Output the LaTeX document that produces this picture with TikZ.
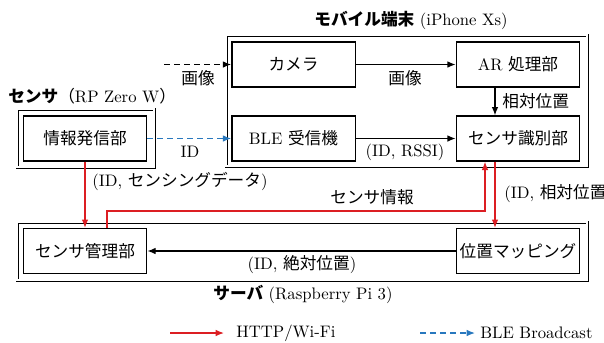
\documentclass[tikz,border=0pt]{standalone}
\usepackage{fontspec}
\usetikzlibrary{arrows.meta}
\newfontfamily\jp{Noto Sans CJK JP}
\definecolor{myred}{RGB}{220,30,35}
\definecolor{myblue}{RGB}{40,120,190}
\begin{document}
\begin{tikzpicture}[x=0.6pt,y=-0.6pt,
  box/.style={draw,line width=0.8pt,minimum width=74pt,minimum height=27pt,inner sep=0pt},
  outerbox/.style={draw,double,line width=0.45pt,double distance=0.9pt},
  arr/.style={line width=0.8pt,-{Latex[length=5pt,width=4pt]}},
  redarr/.style={draw=myred,line width=0.8pt,-{Latex[length=5pt,width=4pt]}},
  bluearr/.style={draw=myblue,line width=0.8pt,dash pattern=on 3.5pt off 2.5pt,-{Latex[length=5pt,width=4pt]}},
  blackdash/.style={line width=0.8pt,dash pattern=on 3.5pt off 2.5pt,-{Latex[length=5pt,width=4pt]}},
  lbl/.style={inner sep=0pt}]
\useasboundingbox (0,0) rectangle (604,342);
% outer containers
\draw[outerbox] (226,35) rectangle (587,166);
\draw[outerbox] (17,109) rectangle (154,167);
\draw[outerbox] (17,222) rectangle (587,280);
% titles
\node[lbl,anchor=west] (tmob) at (314,20) {{\jp\bfseries モバイル端末} (iPhone Xs)};
\node[lbl,anchor=west] (tsen) at (8,96) {{\jp\bfseries センサ}{\jp （}RP Zero W{\jp ）}};
\node[lbl,anchor=west] (tsrv) at (213,294) {{\jp\bfseries サーバ} (Raspberry Pi 3)};
% boxes
\node[box] (cam) at (293.5,64.5) {\jp カメラ};
\node[box] (ar) at (518,64.5) {AR {\jp 処理部}};
\node[box] (ble) at (293.5,138.5) {BLE {\jp 受信機}};
\node[box] (sid) at (518,138.5) {\jp センサ識別部};
\node[box] (info) at (85,138.5) {\jp 情報発信部};
\node[box] (mgmt) at (85,251) {\jp センサ管理部};
\node[box] (pmap) at (518,251) {\jp 位置マッピング};
% coordinates
\coordinate (imgsrc) at (164,64.5);
\coordinate (ra) at (107,211);
\coordinate (rb) at (485,211);
\coordinate (xa) at (495,0);
\coordinate (xi) at (85,0);
% connectors
\draw[blackdash] (imgsrc) -- (cam.west);
\draw[arr] (cam.east) -- (ar.west);
\draw[arr] (ar.south -| xa) -- (sid.north -| xa);
\draw[arr] (ble.east) -- (sid.west);
\draw[bluearr] (info.east) -- (ble.west);
\draw[redarr] (info.south) -- (mgmt.north);
\draw[redarr] (ra |- mgmt.north) -- (ra) -- (rb) -- (rb |- sid.south);
\draw[redarr] (sid.south -| xa) -- (pmap.north -| xa);
\draw[arr] (pmap.west) -- (mgmt.east);
% labels
\node[lbl] (l1) at (198,78) {\jp 画像};
\node[lbl] (l2) at (405,78) {\jp 画像};
\node[lbl,anchor=west] (l3) at (502,101) {\jp 相対位置};
\node[lbl] (l4) at (405,152) {(ID, RSSI)};
\node[lbl] (l5) at (190,152) {ID};
\node[lbl,anchor=west] (l6) at (92,181) {(ID, {\jp センシングデータ})};
\node[lbl] (l7) at (372,197) {\jp センサ情報};
\node[lbl,anchor=west] (l8) at (504,194) {(ID, {\jp 相対位置})};
\node[lbl] (l9) at (302,265) {(ID, {\jp 絶対位置})};
% legend
\coordinate (lga) at (170,333);
\coordinate (lgb) at (224,333);
\coordinate (lgc) at (420,333);
\coordinate (lgd) at (475,333);
\draw[redarr] (lga) -- (lgb);
\node[lbl,anchor=west] (lt1) at (236,333) {HTTP/Wi-Fi};
\draw[bluearr] (lgc) -- (lgd);
\node[lbl,anchor=west] (lt2) at (480,333) {BLE Broadcast};
\end{tikzpicture}
\end{document}
